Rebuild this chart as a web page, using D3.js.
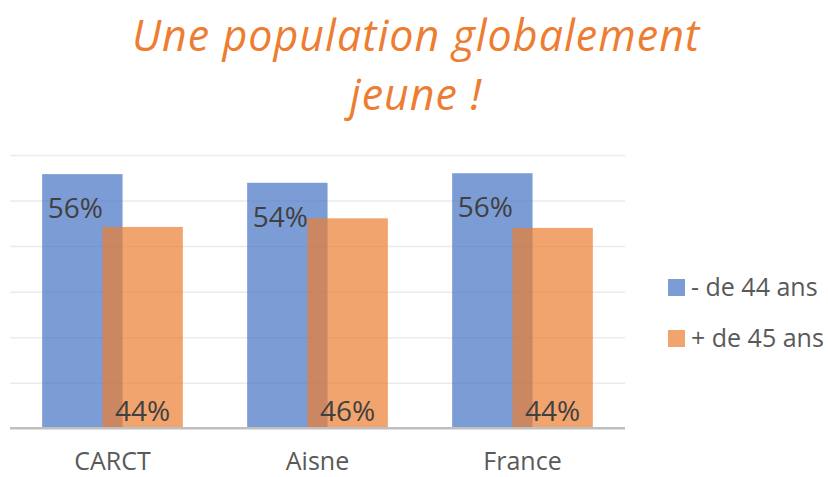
<!DOCTYPE html>
<html>
<head>
<meta charset="utf-8">
<script src="https://cdn.jsdelivr.net/npm/d3@7"></script>
<style>
  body { margin: 0; background: #fff; }
  svg { display: block; }
</style>
</head>
<body>
<script>
// data
const categories = ["CARCT", "Aisne", "France"];
const seriesNames = ["- de 44 ans", "+ de 45 ans"];
const moins44 = [0.558, 0.539, 0.560];
const plus45 = [0.442, 0.461, 0.440];
const titleLines = ["Une population globalement", "jeune !"];
const gridTicks = [0, 0.1, 0.2, 0.3, 0.4, 0.5, 0.6];

const colors = ["#4472C4", "#ED7D31"];

const W = 828, H = 477;
const plot = {left: 10, right: 625, top: 155, bottom: 428.3};

const svg = d3.select("body")
    .append("svg")
    .attr("width", W)
    .attr("height", H);

// title
svg.append("g")
    .selectAll("text")
    .data(titleLines)
    .enter()
    .append("text")
    .attr("x", 416)
    .attr("y", function(d, i){ return 51 + i * 59.3; })
    .attr("text-anchor", "middle")
    .attr("font-family", "'Open Sans', sans-serif")
    .attr("font-style", "italic")
    .attr("font-size", "43px")
    .attr("letter-spacing", "1px")
    .attr("fill", "#ED7D31")
    .text(function(d){ return d; });

const yScale = d3.scaleLinear()
    .domain([0, 0.6])
    .range([plot.bottom, plot.top]);

// gap width 80%, overlap 25%
const gap = 0.8, overlap = 0.25;
const p = gap / (2 - overlap + gap);
const xScale = d3.scaleBand()
    .domain(categories)
    .range([plot.left, plot.right])
    .paddingInner(p)
    .paddingOuter(p / 2);
const barW = xScale.bandwidth() / (2 - overlap);

// gridlines
svg.append("g")
    .attr("transform", "translate(" + plot.left + ",0)")
    .call(d3.axisLeft(yScale).tickValues(gridTicks.slice(1))
        .tickSize(-(plot.right - plot.left)).tickFormat(""))
    .call(function(g){
        g.select(".domain").remove();
        g.selectAll("line").attr("stroke", "#ebebeb").attr("stroke-width", 1.5);
    });

const rows = categories.map(function(c, i){
    return [{cat: c, s: 0, v: moins44[i]}, {cat: c, s: 1, v: plus45[i]}];
});
const flat = rows[0].concat(rows[1], rows[2]).sort(function(a, b){ return a.s - b.s; });

function barX(d){ return xScale(d.cat) + d.s * barW * (1 - overlap); }

svg.append("g")
    .selectAll("rect")
    .data(flat)
    .enter()
    .append("rect")
    .attr("x", barX)
    .attr("y", function(d){ return yScale(d.v); })
    .attr("width", barW)
    .attr("height", function(d){ return yScale(0) - yScale(d.v); })
    .attr("fill", function(d){ return colors[d.s]; })
    .attr("fill-opacity", 0.7);

// x axis
svg.append("g")
    .attr("transform", "translate(0," + plot.bottom + ")")
    .call(d3.axisBottom(xScale).tickSize(0).tickPadding(29))
    .call(function(g){
        g.select(".domain").attr("stroke", "#bfbfbf").attr("stroke-width", 2.5)
            .attr("d", "M" + plot.left + ",0H" + plot.right);
        g.selectAll("text")
            .attr("font-family", "'Open Sans', sans-serif")
            .attr("font-size", "25px")
            .attr("fill", "#595959")
            .attr("dy", "0.5em");
    });

// data labels
const fmt = d3.format(".0%");
svg.append("g")
    .selectAll("text")
    .data(flat)
    .enter()
    .append("text")
    .attr("x", function(d){ return barX(d) + barW / 2 - (d.s === 0 ? 7 : 0); })
    .attr("y", function(d){ return d.s === 0 ? yScale(d.v) + 44 : yScale(0) - 7; })
    .attr("text-anchor", "middle")
    .attr("font-family", "'Open Sans', sans-serif")
    .attr("font-size", "28px")
    .attr("fill", "#404040")
    .text(function(d){ return fmt(d.v); });

// legend
const legend = svg.append("g")
    .selectAll("g")
    .data(seriesNames)
    .enter()
    .append("g")
    .attr("transform", function(d, i){ return "translate(668," + (279 + i * 51) + ")"; });

legend.append("rect")
    .attr("width", 17)
    .attr("height", 17)
    .attr("fill", function(d, i){ return colors[i]; })
    .attr("fill-opacity", 0.7);

legend.append("text")
    .attr("x", 23)
    .attr("y", 17)
    .attr("font-family", "'Open Sans', sans-serif")
    .attr("font-size", "25px")
    .attr("fill", "#595959")
    .text(function(d){ return d; });
</script>
</body>
</html>
